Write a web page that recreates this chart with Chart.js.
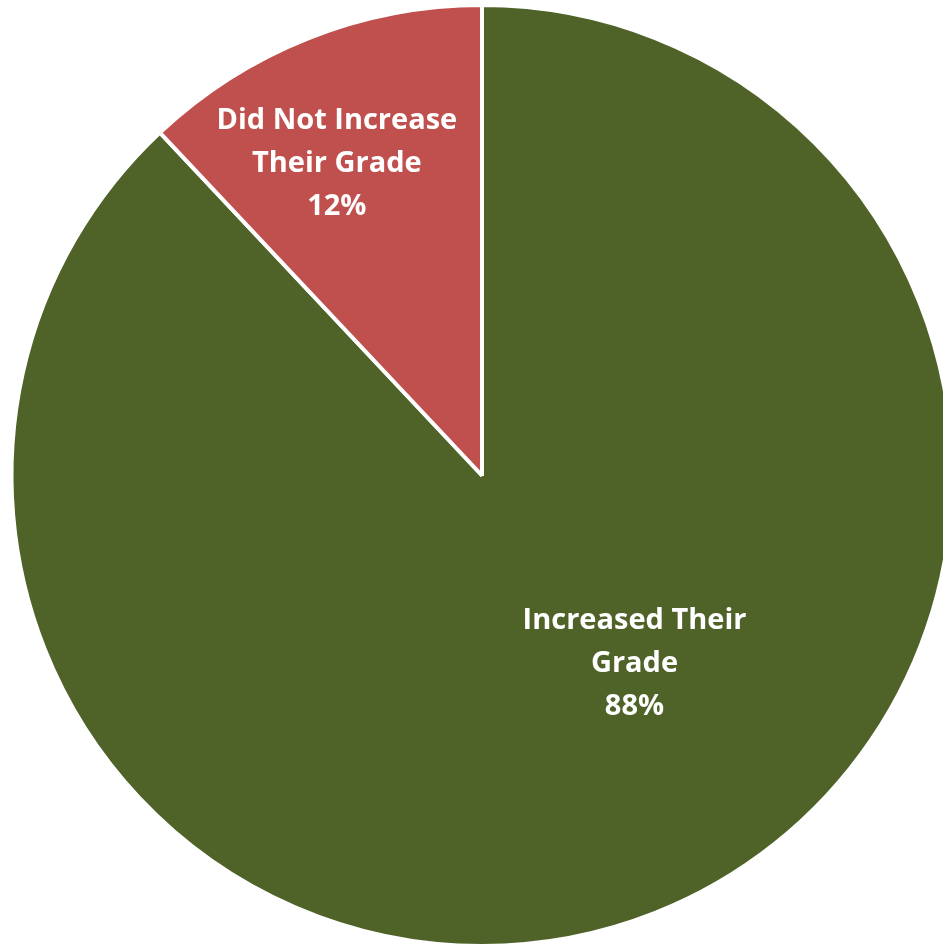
<!DOCTYPE html>
<html>
<head>
<meta charset="utf-8">
<script src="https://cdn.jsdelivr.net/npm/chart.js@4"></script>
<style>
html,body{margin:0;padding:0;background:#fff;overflow:hidden;}
#wrap{position:absolute;left:0;top:0;width:964px;height:950px;}
</style>
</head>
<body>
<div id="wrap"><canvas id="c"></canvas></div>
<script>
const categories = ["Increased Their Grade", "Did Not Increase Their Grade"];
const labelLines = [["Increased Their", "Grade"], ["Did Not Increase", "Their Grade"]];
const values = [88, 12];
const colors = ["#4F6228", "#C0504D"];

const labelPlugin = {
  id: 'sliceLabels',
  afterDatasetsDraw(chart, args, opts) {
    const ctx = chart.ctx;
    const meta = chart.getDatasetMeta(0);
    const total = values.reduce((a, b) => a + b, 0);
    ctx.save();
    ctx.fillStyle = '#fff';
    ctx.font = 'bold 29px "Open Sans"';
    ctx.textAlign = 'center';
    ctx.textBaseline = 'middle';
    meta.data.forEach((arc, i) => {
      const a = opts.anchors[i];
      const ang = a.angle * Math.PI / 180;
      const x = arc.x + a.r * arc.outerRadius * Math.cos(ang);
      const y = arc.y + a.r * arc.outerRadius * Math.sin(ang);
      const lines = labelLines[i].concat([Math.round(values[i] / total * 100) + '%']);
      const lh = 43;
      lines.forEach((t, k) => {
        ctx.fillText(t, x, y + (k - (lines.length - 1) / 2) * lh);
      });
    });
    ctx.restore();
  }
};

new Chart(document.getElementById('c'), {
  type: 'pie',
  data: {
    labels: categories,
    datasets: [{
      data: values,
      backgroundColor: colors,
      borderColor: '#fff',
      borderWidth: 4
    }]
  },
  options: {
    responsive: true,
    maintainAspectRatio: false,
    animation: false,
    layout: { padding: { left: 9, right: 9, top: 3, bottom: 2 } },
    plugins: {
      legend: { display: false },
      tooltip: { enabled: false },
      sliceLabels: { anchors: [{ angle: 51, r: 0.515 }, { angle: -115, r: 0.73 }] }
    }
  },
  plugins: [labelPlugin]
});
</script>
</body>
</html>
